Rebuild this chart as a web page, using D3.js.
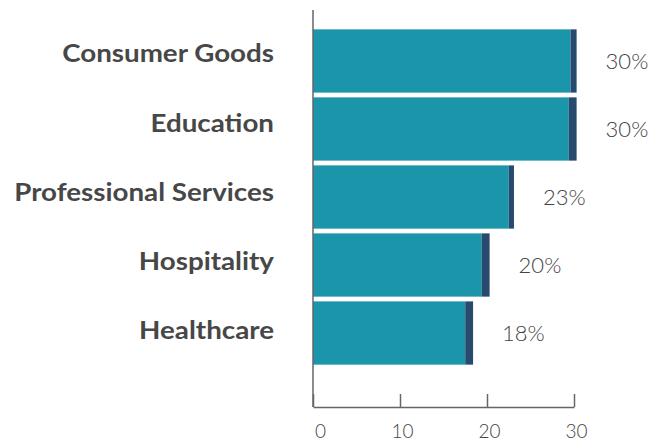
<!DOCTYPE html>
<html>
<head>
<meta charset="utf-8">
<script src="https://cdn.jsdelivr.net/npm/d3@7"></script>
<style>
  body { margin: 0; background: #fff; }
  svg { display: block; }
</style>
</head>
<body>
<script>
// data
const industries = ["Consumer Goods", "Education", "Professional Services", "Hospitality", "Healthcare"];
const mainPart = [29.6, 29.4, 22.5, 19.4, 17.5];
const endPart = [0.7, 0.9, 0.6, 0.9, 0.9];
const pctLabels = ["30%", "30%", "23%", "20%", "18%"];
const xTicks = [0, 10, 20, 30];

const width = 652, height = 441;
const plotLeft = 313, plotRight = 574, plotTop = 10, axisY = 407;

const svg = d3.select("body").append("svg")
  .attr("width", width)
  .attr("height", height);

const x = d3.scaleLinear().domain([0, 30]).range([plotLeft, plotRight]);
const y = d3.scaleBand().domain(industries).range([28, 366]).paddingInner(0.07).paddingOuter(0.02);

const rows = industries.map((d, i) => ({ name: d, i: i, a: mainPart[i], b: endPart[i], label: pctLabels[i] }));

// teal bars
svg.selectAll("rect.main")
  .data(rows)
  .enter().append("rect")
  .attr("class", "main")
  .attr("x", x(0))
  .attr("y", d => y(d.name))
  .attr("width", d => x(d.a) - x(0))
  .attr("height", y.bandwidth())
  .attr("fill", "#1b95aa");

// dark end caps
svg.selectAll("rect.cap")
  .data(rows)
  .enter().append("rect")
  .attr("class", "cap")
  .attr("x", d => x(d.a))
  .attr("y", d => y(d.name))
  .attr("width", d => x(d.a + d.b) - x(d.a))
  .attr("height", y.bandwidth())
  .attr("fill", "#284a6f");

// value labels
svg.selectAll("text.pct")
  .data(rows)
  .enter().append("text")
  .attr("class", "pct")
  .attr("x", d => x(d.a + d.b) + 29)
  .attr("y", d => y(d.name) + y.bandwidth() / 2)
  .attr("dy", "0.35em")
  .attr("font-family", "Lato, sans-serif")
  .attr("font-weight", 300)
  .attr("font-size", "22px")
  .attr("fill", "#444")
  .text(d => d.label);

// category labels (wide glyphs in the original, so stretch a bit)
svg.selectAll("text.cat")
  .data(rows)
  .enter().append("text")
  .attr("class", "cat")
  .attr("transform", d => `translate(274,${y(d.name) + y.bandwidth() / 2 + 1.5 + d.i * 1.2}) scale(1.11,1)`)
  .attr("text-anchor", "end")
  .attr("font-family", "Lato, sans-serif")
  .attr("font-weight", 700)
  .attr("font-size", "25px")
  .attr("fill", "#474747")
  .text(d => d.name);

// vertical axis line
svg.append("line")
  .attr("x1", plotLeft).attr("x2", plotLeft)
  .attr("y1", plotTop).attr("y2", axisY)
  .attr("stroke", "#666")
  .attr("stroke-width", 1.5);

// bottom axis, ticks pointing up
const xAxis = svg.append("g")
  .attr("transform", `translate(0,${axisY})`)
  .call(d3.axisBottom(x).tickValues(xTicks).tickSizeInner(-13).tickSizeOuter(0).tickPadding(18));

xAxis.select(".domain").attr("stroke", "#666").attr("stroke-width", 1.5);
xAxis.selectAll(".tick line").attr("stroke", "#666").attr("stroke-width", 1.5);
xAxis.selectAll(".tick text")
  .attr("dx", d => d === 0 ? 7 : 2)
  .attr("font-family", "Lato, sans-serif")
  .attr("font-weight", 300)
  .attr("font-size", "19px")
  .attr("fill", "#444");
</script>
</body>
</html>
